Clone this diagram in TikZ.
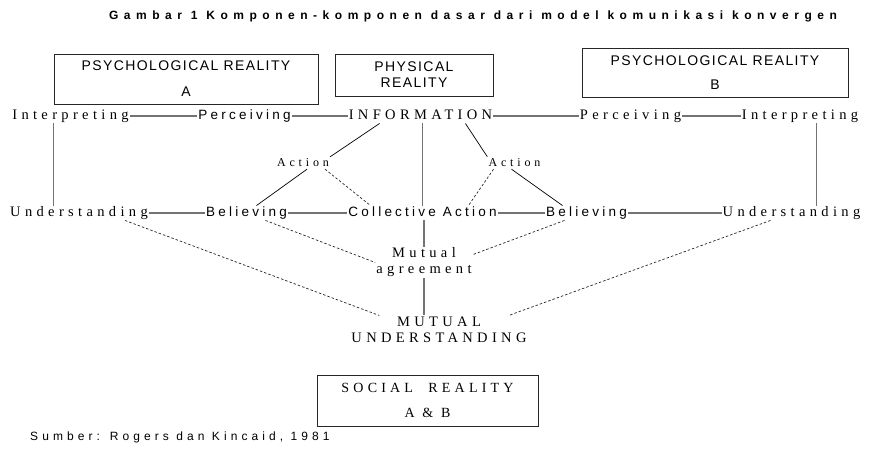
\documentclass[tikz,border=0pt]{standalone}
\usepackage{fontspec}
\setmainfont{Liberation Serif}
\newfontfamily\spserif[LetterSpace=30]{Liberation Serif}
\newfontfamily\actserif[LetterSpace=32]{Liberation Serif}
\newfontfamily\spsans[LetterSpace=24]{Liberation Sans}
\newfontfamily\boxsans[LetterSpace=10]{Liberation Sans}
\newfontfamily\titlesans[LetterSpace=46]{Liberation Sans}
\newfontfamily\srcsans[LetterSpace=34]{Liberation Sans}
\usetikzlibrary{calc}

\tikzset{
  serifword/.style={font=\spserif\fontsize{14.5}{16}\selectfont, inner sep=1pt, text height=9.5pt, text depth=3pt},
  sansword/.style={font=\spsans\fontsize{13.5}{16}\selectfont, inner sep=1pt, text height=9.5pt, text depth=3pt},
  actword/.style={font=\actserif\fontsize{12}{14}\selectfont, inner sep=1pt, text height=8pt, text depth=2pt},
  realbox/.style={draw=black!85, line width=0.9pt, align=center, inner sep=0pt, font=\boxsans\fontsize{14}{16}\selectfont},
  link/.style={draw=black!55, line width=1.2pt},
  thinlink/.style={draw=black, line width=0.7pt},
  dotlink/.style={draw=black!85, line width=0.7pt, dash pattern=on 2.5pt off 2pt},
}

\begin{document}
\begin{tikzpicture}[x=1pt,y=1pt,yscale=-1]
\useasboundingbox (0,0) rectangle (871,450);

% Title
\node (title) at (473,16) {\titlesans\bfseries\fontsize{12}{14}\selectfont Gambar 1 Komponen-komponen dasar dari model komunikasi konvergen};

%Shape: Rectangle boxes
\node (psyA) at (186,79) [realbox, minimum width=264pt, minimum height=50pt] {PSYCHOLOGICAL REALITY\\[10pt]A};
\node (phys) at (414,75) [realbox, minimum width=158pt, minimum height=42pt] {PHYSICAL\\REALITY};
\node (psyB) at (715,73) [realbox, minimum width=266pt, minimum height=49pt] {PSYCHOLOGICAL REALITY\\[8pt]B};
\node (social) at (427.5,400.5) [realbox, font=\spserif\fontsize{14}{16}\selectfont, minimum width=221pt, minimum height=51pt] {SOCIAL\ \ REALITY\\[9pt]A \& B};

% Text Node row 1
\node (interpA) at (70.5,116) [serifword] {Interpreting};
\node (percA) at (244.5,116) [sansword] {Perceiving};
\node (info) at (420.5,116) [serifword] {INFORMATION};
\node (percB) at (630.5,116) [serifword] {Perceiving};
\node (interpB) at (800,116) [serifword] {Interpreting};

% Text Node actions
\node (actA) at (303,163) [actword] {Action};
\node (actB) at (514.5,163) [actword] {Action};

% Text Node row 2
\node (undA) at (79,213) [serifword] {Understanding};
\node (belA) at (246.5,213) [sansword] {Believing};
\node (coll) at (422.5,213) [sansword] {Collective Action};
\node (belB) at (586.5,213) [sansword] {Believing};
\node (undB) at (791.5,213) [serifword] {Understanding};

% Text Node mutual
\node (mutA) at (424,262.5) [serifword, align=center, text height=, text depth=] {Mutual\\agreement};
\node (mutU) at (439,329.5) [serifword, align=center, text height=, text depth=] {MUTUAL\\UNDERSTANDING};

% Source
\node (src) at (30,437) [anchor=west, inner sep=0pt] {\srcsans\fontsize{12}{14}\selectfont Sumber: Rogers dan Kincaid, 1981};

%Straight Lines row 1 and row 2
\draw [link] (interpA) -- (percA);
\draw [link] (percA) -- (info);
\draw [link] (info) -- (percB);
\draw [link] (percB) -- (interpB);
\draw [link] (undA) -- (belA);
\draw [link] (belA) -- (coll);
\draw [link] (coll) -- (belB);
\draw [link] (belB) -- (undB);

%Straight Lines verticals
\draw [link] ([xshift=42pt]interpA.south west) -- ([xshift=42pt]interpA.south west |- undA.north);
\draw [link] ([xshift=76pt]interpB.south west) -- ([xshift=76pt]interpB.south west |- undB.north);
\draw [link] (info.south -| coll.north) -- (coll.north);
\draw [link] (coll.south -| mutA.north) -- (mutA.north);
\draw [link] (mutA.south) -- (mutA.south |- mutU.north);

%Straight Lines actions
\draw [thinlink] ([xshift=32pt]info.south west) -- (actA.north east);
\draw [thinlink] ([xshift=-28pt]info.south east) -- (actB.north west);
\draw [thinlink] ([xshift=4pt]actA.south) -- ([xshift=10pt]belA.north);
\draw [dotlink] ([xshift=22pt]actA.south) -- ([xshift=-52pt]coll.north);
\draw [dotlink] ([xshift=-21pt]actB.south) -- ([xshift=46pt]coll.north);
\draw [thinlink] ([xshift=-3pt]actB.south) -- ([xshift=-24pt]belB.north);

%Dotted Lines to mutual
\draw [dotlink] ([xshift=46pt]undA.south) -- ([xshift=29pt]mutU.north west);
\draw [dotlink] ([xshift=19pt]belA.south) -- (mutA.west);
\draw [dotlink] ([xshift=-22pt]belB.south) -- ($(mutA.east)!.5!(mutA.north east)$);
\draw [dotlink] ([xshift=-21pt]undB.south) -- ([xshift=-19pt]mutU.north east);

\end{tikzpicture}
\end{document}
